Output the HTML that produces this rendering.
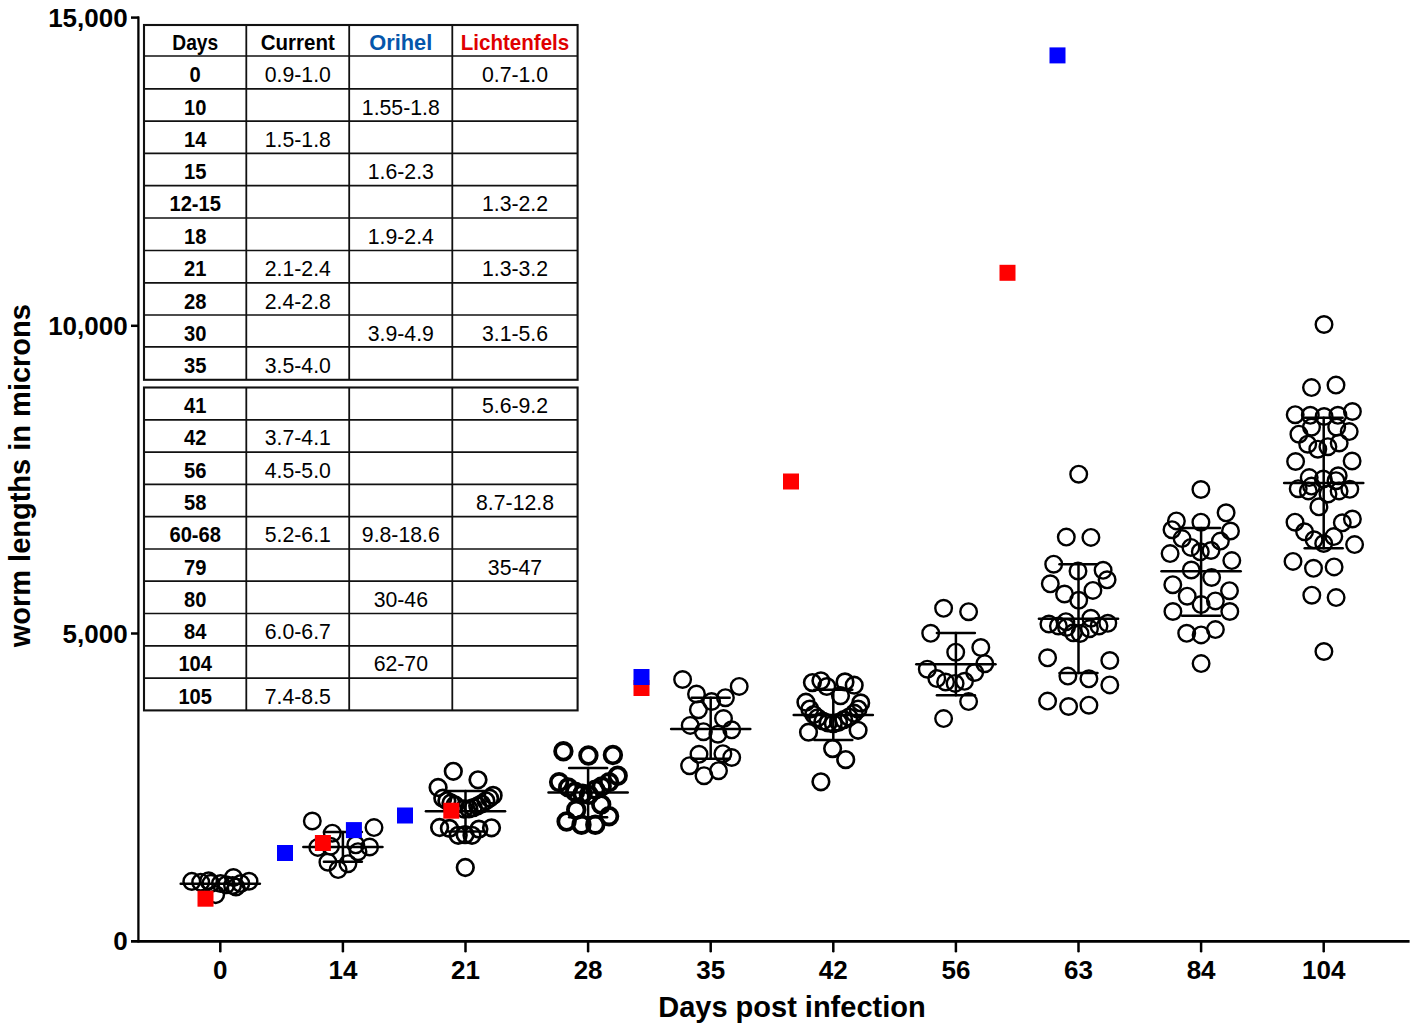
<!DOCTYPE html>
<html><head><meta charset="utf-8"><style>
html,body{margin:0;padding:0;background:#fff;}
svg{display:block;}
</style></head><body>
<svg width="1416" height="1034" viewBox="0 0 1416 1034" font-family="Liberation Sans, sans-serif">
<rect width="1416" height="1034" fill="#fff"/>
<g stroke="#000" fill="none" stroke-linecap="butt">
<line x1="138.4" y1="16.5" x2="138.4" y2="942.6" stroke-width="2.3"/>
<line x1="131" y1="941.4" x2="1409.6" y2="941.4" stroke-width="2.8"/>
<line x1="131" y1="17.6" x2="139" y2="17.6" stroke-width="2.5"/>
<line x1="131" y1="325.8" x2="139" y2="325.8" stroke-width="2.5"/>
<line x1="131" y1="633.5" x2="139" y2="633.5" stroke-width="2.5"/>
</g>
<g stroke="#000" fill="none" stroke-width="2.5" stroke-linecap="round">
<line x1="220.3" y1="942" x2="220.3" y2="951.3"/>
<line x1="342.9" y1="942" x2="342.9" y2="951.3"/>
<line x1="465.5" y1="942" x2="465.5" y2="951.3"/>
<line x1="588.1" y1="942" x2="588.1" y2="951.3"/>
<line x1="710.7" y1="942" x2="710.7" y2="951.3"/>
<line x1="833.3" y1="942" x2="833.3" y2="951.3"/>
<line x1="955.9" y1="942" x2="955.9" y2="951.3"/>
<line x1="1078.5" y1="942" x2="1078.5" y2="951.3"/>
<line x1="1201.1" y1="942" x2="1201.1" y2="951.3"/>
<line x1="1323.7" y1="942" x2="1323.7" y2="951.3"/>
</g>
<g font-family="Liberation Sans, sans-serif" font-weight="bold" font-size="26" fill="#000">
<text x="127.7" y="26.7" text-anchor="end">15,000</text>
<text x="127.7" y="334.9" text-anchor="end">10,000</text>
<text x="127.7" y="642.6" text-anchor="end">5,000</text>
<text x="127.7" y="949.8" text-anchor="end">0</text>
<text x="220.3" y="978.8" text-anchor="middle">0</text>
<text x="342.9" y="978.8" text-anchor="middle">14</text>
<text x="465.5" y="978.8" text-anchor="middle">21</text>
<text x="588.1" y="978.8" text-anchor="middle">28</text>
<text x="710.7" y="978.8" text-anchor="middle">35</text>
<text x="833.3" y="978.8" text-anchor="middle">42</text>
<text x="955.9" y="978.8" text-anchor="middle">56</text>
<text x="1078.5" y="978.8" text-anchor="middle">63</text>
<text x="1201.1" y="978.8" text-anchor="middle">84</text>
<text x="1323.7" y="978.8" text-anchor="middle">104</text>
</g>
<text x="658.2" y="1016.8" font-family="Liberation Sans, sans-serif" font-weight="bold" font-size="29">Days post infection</text>
<text transform="translate(29.8,647.3) rotate(-90)" font-family="Liberation Sans, sans-serif" font-weight="bold" font-size="29">worm lengths in microns</text>
<g stroke="#000" stroke-width="2.5" fill="none">
<circle cx="191.8" cy="881.4" r="8.3"/>
<circle cx="208.6" cy="880.8" r="8.3"/>
<circle cx="200.7" cy="882.2" r="8.3"/>
<circle cx="210.9" cy="883.4" r="8.3"/>
<circle cx="215.7" cy="894.6" r="8.3"/>
<circle cx="233.4" cy="877.5" r="8.3"/>
<circle cx="249" cy="881.2" r="8.3"/>
<circle cx="240.8" cy="883.5" r="8.3"/>
<circle cx="232.6" cy="885.5" r="8.3"/>
<circle cx="226.2" cy="884.8" r="8.3"/>
<circle cx="220.5" cy="883.5" r="8.3"/>
<circle cx="236" cy="887" r="8.3"/>
</g>
<g stroke="#000" stroke-width="2.4" fill="none">
<circle cx="312.3" cy="821" r="8.3"/>
<circle cx="332.3" cy="833.2" r="8.3"/>
<circle cx="374" cy="827.6" r="8.3"/>
<circle cx="317.8" cy="847.4" r="8.3"/>
<circle cx="330.5" cy="846.3" r="8.3"/>
<circle cx="327.9" cy="862.2" r="8.3"/>
<circle cx="338.1" cy="869.6" r="8.3"/>
<circle cx="347.9" cy="863.7" r="8.3"/>
<circle cx="355.8" cy="844.8" r="8.3"/>
<circle cx="358" cy="851.7" r="8.3"/>
<circle cx="369.6" cy="847" r="8.3"/>
</g>
<g stroke="#000" stroke-width="2.7" fill="none">
<circle cx="453.3" cy="771.3" r="8.3"/>
<circle cx="478" cy="779.8" r="8.3"/>
<circle cx="438.1" cy="787.5" r="8.3"/>
<circle cx="442.8" cy="798.2" r="8.3"/>
<circle cx="446.9" cy="800.8" r="8.3"/>
<circle cx="451" cy="803" r="8.3"/>
<circle cx="455" cy="805" r="8.3"/>
<circle cx="493.1" cy="795.4" r="8.3"/>
<circle cx="489.6" cy="798.2" r="8.3"/>
<circle cx="485.9" cy="800.8" r="8.3"/>
<circle cx="481.5" cy="803.9" r="8.3"/>
<circle cx="477.7" cy="805.8" r="8.3"/>
<circle cx="473.3" cy="807.7" r="8.3"/>
<circle cx="468.9" cy="808.9" r="8.3"/>
<circle cx="464" cy="809" r="8.3"/>
<circle cx="439.6" cy="827.5" r="8.3"/>
<circle cx="449.4" cy="828.4" r="8.3"/>
<circle cx="458.2" cy="835.3" r="8.3"/>
<circle cx="465.1" cy="834.7" r="8.3"/>
<circle cx="472" cy="835.3" r="8.3"/>
<circle cx="478.9" cy="829.1" r="8.3"/>
<circle cx="491.5" cy="827.8" r="8.3"/>
<circle cx="465.3" cy="867.5" r="8.3"/>
</g>
<g stroke="#000" stroke-width="3.8" fill="none">
<circle cx="563.4" cy="751.3" r="8.3"/>
<circle cx="588.4" cy="755.5" r="8.3"/>
<circle cx="612.9" cy="755" r="8.3"/>
<circle cx="617.7" cy="775.7" r="8.3"/>
<circle cx="559.1" cy="782.1" r="8.3"/>
<circle cx="568.2" cy="787.4" r="8.3"/>
<circle cx="575.1" cy="791.7" r="8.3"/>
<circle cx="582.6" cy="793.8" r="8.3"/>
<circle cx="588.9" cy="794.9" r="8.3"/>
<circle cx="595.3" cy="789.6" r="8.3"/>
<circle cx="601.7" cy="786.4" r="8.3"/>
<circle cx="609.1" cy="782.1" r="8.3"/>
<circle cx="576.2" cy="809.8" r="8.3"/>
<circle cx="601.2" cy="804.5" r="8.3"/>
<circle cx="566.6" cy="821.5" r="8.3"/>
<circle cx="581.5" cy="824.7" r="8.3"/>
<circle cx="595.3" cy="824.7" r="8.3"/>
<circle cx="609.1" cy="816.2" r="8.3"/>
</g>
<g stroke="#000" stroke-width="2.4" fill="none">
<circle cx="682.6" cy="679.5" r="8.3"/>
<circle cx="739.2" cy="686.4" r="8.3"/>
<circle cx="696.5" cy="694" r="8.3"/>
<circle cx="711.6" cy="701.5" r="8.3"/>
<circle cx="725.4" cy="697.7" r="8.3"/>
<circle cx="698.4" cy="709.7" r="8.3"/>
<circle cx="723.5" cy="718.5" r="8.3"/>
<circle cx="690.2" cy="725.4" r="8.3"/>
<circle cx="703.4" cy="731.7" r="8.3"/>
<circle cx="717.9" cy="734.2" r="8.3"/>
<circle cx="731.7" cy="729.8" r="8.3"/>
<circle cx="699" cy="754.3" r="8.3"/>
<circle cx="722.9" cy="753.7" r="8.3"/>
<circle cx="731.7" cy="757.5" r="8.3"/>
<circle cx="689.6" cy="765.7" r="8.3"/>
<circle cx="704" cy="775.7" r="8.3"/>
<circle cx="718.5" cy="770.7" r="8.3"/>
</g>
<g stroke="#000" stroke-width="2.6" fill="none">
<circle cx="812.4" cy="682.6" r="8.3"/>
<circle cx="820.9" cy="680.8" r="8.3"/>
<circle cx="826.8" cy="686.5" r="8.3"/>
<circle cx="845" cy="681.9" r="8.3"/>
<circle cx="854.2" cy="685.2" r="8.3"/>
<circle cx="840.5" cy="695.7" r="8.3"/>
<circle cx="805.9" cy="702.2" r="8.3"/>
<circle cx="860.7" cy="702.9" r="8.3"/>
<circle cx="809.8" cy="709.1" r="8.3"/>
<circle cx="813.7" cy="714.5" r="8.3"/>
<circle cx="817.6" cy="717.8" r="8.3"/>
<circle cx="822.9" cy="721" r="8.3"/>
<circle cx="828.1" cy="723" r="8.3"/>
<circle cx="833.3" cy="723.6" r="8.3"/>
<circle cx="838.5" cy="722.3" r="8.3"/>
<circle cx="843.7" cy="719.7" r="8.3"/>
<circle cx="849" cy="717.1" r="8.3"/>
<circle cx="854.2" cy="713.2" r="8.3"/>
<circle cx="858.1" cy="709.1" r="8.3"/>
<circle cx="808.5" cy="732.2" r="8.3"/>
<circle cx="858.1" cy="730.3" r="8.3"/>
<circle cx="832.6" cy="748.6" r="8.3"/>
<circle cx="845.7" cy="759.6" r="8.3"/>
<circle cx="820.9" cy="781.8" r="8.3"/>
</g>
<g stroke="#000" stroke-width="2.4" fill="none">
<circle cx="943.6" cy="608.3" r="8.3"/>
<circle cx="968.6" cy="611.7" r="8.3"/>
<circle cx="930.7" cy="633.3" r="8.3"/>
<circle cx="955.7" cy="652.2" r="8.3"/>
<circle cx="980.8" cy="647.5" r="8.3"/>
<circle cx="984.8" cy="663.7" r="8.3"/>
<circle cx="927.3" cy="669.2" r="8.3"/>
<circle cx="936.8" cy="678.6" r="8.3"/>
<circle cx="945.6" cy="682" r="8.3"/>
<circle cx="955.1" cy="683.4" r="8.3"/>
<circle cx="964.5" cy="681.3" r="8.3"/>
<circle cx="974.7" cy="672.5" r="8.3"/>
<circle cx="968.6" cy="701.6" r="8.3"/>
<circle cx="943.6" cy="718.6" r="8.3"/>
</g>
<g stroke="#000" stroke-width="2.4" fill="none">
<circle cx="1078.7" cy="474.2" r="8.3"/>
<circle cx="1066.3" cy="537.1" r="8.3"/>
<circle cx="1090.9" cy="537.4" r="8.3"/>
<circle cx="1053.7" cy="564.2" r="8.3"/>
<circle cx="1078" cy="571" r="8.3"/>
<circle cx="1103.1" cy="570.3" r="8.3"/>
<circle cx="1107.1" cy="579.8" r="8.3"/>
<circle cx="1050.3" cy="583.8" r="8.3"/>
<circle cx="1092.9" cy="590.4" r="8.3"/>
<circle cx="1064.5" cy="594" r="8.3"/>
<circle cx="1078.7" cy="600.3" r="8.3"/>
<circle cx="1048.9" cy="624" r="8.3"/>
<circle cx="1058.4" cy="626" r="8.3"/>
<circle cx="1065.9" cy="621.7" r="8.3"/>
<circle cx="1066.5" cy="627.4" r="8.3"/>
<circle cx="1073.3" cy="632.8" r="8.3"/>
<circle cx="1080.1" cy="633.5" r="8.3"/>
<circle cx="1090.9" cy="618.3" r="8.3"/>
<circle cx="1089.5" cy="628.7" r="8.3"/>
<circle cx="1099" cy="626" r="8.3"/>
<circle cx="1107.8" cy="623.3" r="8.3"/>
<circle cx="1047.6" cy="657.8" r="8.3"/>
<circle cx="1109.8" cy="660.5" r="8.3"/>
<circle cx="1067.9" cy="676.1" r="8.3"/>
<circle cx="1088.9" cy="678.8" r="8.3"/>
<circle cx="1109.8" cy="684.9" r="8.3"/>
<circle cx="1047.6" cy="701.1" r="8.3"/>
<circle cx="1068.6" cy="706.5" r="8.3"/>
<circle cx="1088.9" cy="705.2" r="8.3"/>
</g>
<g stroke="#000" stroke-width="2.4" fill="none">
<circle cx="1200.9" cy="489.5" r="8.3"/>
<circle cx="1226.1" cy="512.8" r="8.3"/>
<circle cx="1176.4" cy="520.9" r="8.3"/>
<circle cx="1200.9" cy="522.2" r="8.3"/>
<circle cx="1172" cy="529.7" r="8.3"/>
<circle cx="1230.5" cy="531" r="8.3"/>
<circle cx="1182.1" cy="538.6" r="8.3"/>
<circle cx="1220.4" cy="541.1" r="8.3"/>
<circle cx="1190.9" cy="547.4" r="8.3"/>
<circle cx="1200.3" cy="551.8" r="8.3"/>
<circle cx="1211" cy="550.5" r="8.3"/>
<circle cx="1170.1" cy="553.6" r="8.3"/>
<circle cx="1231.8" cy="560.6" r="8.3"/>
<circle cx="1191.3" cy="570" r="8.3"/>
<circle cx="1211.6" cy="577.5" r="8.3"/>
<circle cx="1172.8" cy="584.7" r="8.3"/>
<circle cx="1229.5" cy="590.7" r="8.3"/>
<circle cx="1187.2" cy="596.2" r="8.3"/>
<circle cx="1215.4" cy="600.9" r="8.3"/>
<circle cx="1201.1" cy="604.6" r="8.3"/>
<circle cx="1172.9" cy="611.5" r="8.3"/>
<circle cx="1229.8" cy="611.5" r="8.3"/>
<circle cx="1186.7" cy="633.3" r="8.3"/>
<circle cx="1201.1" cy="634.9" r="8.3"/>
<circle cx="1215.4" cy="629.6" r="8.3"/>
<circle cx="1201.1" cy="663.6" r="8.3"/>
</g>
<g stroke="#000" stroke-width="2.4" fill="none">
<circle cx="1324" cy="324.5" r="8.3"/>
<circle cx="1311.5" cy="387.6" r="8.3"/>
<circle cx="1336" cy="385.1" r="8.3"/>
<circle cx="1295.2" cy="414.7" r="8.3"/>
<circle cx="1310.3" cy="415.3" r="8.3"/>
<circle cx="1324.1" cy="416.5" r="8.3"/>
<circle cx="1337.9" cy="415.3" r="8.3"/>
<circle cx="1352.4" cy="411.5" r="8.3"/>
<circle cx="1311.5" cy="427.2" r="8.3"/>
<circle cx="1336.7" cy="427.2" r="8.3"/>
<circle cx="1298.9" cy="434.2" r="8.3"/>
<circle cx="1349.2" cy="431.6" r="8.3"/>
<circle cx="1307.7" cy="444.2" r="8.3"/>
<circle cx="1317.8" cy="449.2" r="8.3"/>
<circle cx="1327.9" cy="446.7" r="8.3"/>
<circle cx="1339.2" cy="443" r="8.3"/>
<circle cx="1295.6" cy="461.5" r="8.3"/>
<circle cx="1352.1" cy="461" r="8.3"/>
<circle cx="1309.2" cy="477.6" r="8.3"/>
<circle cx="1323.3" cy="479" r="8.3"/>
<circle cx="1338.2" cy="475.8" r="8.3"/>
<circle cx="1336" cy="480.7" r="8.3"/>
<circle cx="1311.5" cy="486.1" r="8.3"/>
<circle cx="1298.2" cy="488.7" r="8.3"/>
<circle cx="1308.3" cy="490.9" r="8.3"/>
<circle cx="1328" cy="494" r="8.3"/>
<circle cx="1339.1" cy="490.9" r="8.3"/>
<circle cx="1349.8" cy="489.3" r="8.3"/>
<circle cx="1318.9" cy="506.8" r="8.3"/>
<circle cx="1295" cy="522.2" r="8.3"/>
<circle cx="1342.3" cy="522.8" r="8.3"/>
<circle cx="1352.4" cy="519" r="8.3"/>
<circle cx="1304.6" cy="531.8" r="8.3"/>
<circle cx="1314.1" cy="539.8" r="8.3"/>
<circle cx="1323.7" cy="543.5" r="8.3"/>
<circle cx="1333.8" cy="536.6" r="8.3"/>
<circle cx="1354.6" cy="544.6" r="8.3"/>
<circle cx="1293" cy="561.4" r="8.3"/>
<circle cx="1313.5" cy="568.3" r="8.3"/>
<circle cx="1334.1" cy="566.9" r="8.3"/>
<circle cx="1311.8" cy="595.2" r="8.3"/>
<circle cx="1336.1" cy="597.6" r="8.3"/>
<circle cx="1323.9" cy="651.5" r="8.3"/>
</g>
<g stroke="#000" stroke-width="2.5" fill="none" stroke-linecap="round">
<line x1="180.7" y1="883.8" x2="259.9" y2="883.8"/>
<line x1="303.3" y1="847" x2="382.5" y2="847"/>
<line x1="342.9" y1="832.1" x2="342.9" y2="861.8"/>
<line x1="323.9" y1="832.1" x2="361.9" y2="832.1"/>
<line x1="323.9" y1="861.8" x2="361.9" y2="861.8"/>
<line x1="425.9" y1="811.2" x2="505.1" y2="811.2"/>
<line x1="465.5" y1="790.9" x2="465.5" y2="831.5"/>
<line x1="446.5" y1="790.9" x2="484.5" y2="790.9"/>
<line x1="446.5" y1="831.5" x2="484.5" y2="831.5"/>
<line x1="548.5" y1="792.6" x2="627.7" y2="792.6"/>
<line x1="588.1" y1="768" x2="588.1" y2="817.2"/>
<line x1="569.1" y1="768" x2="607.1" y2="768"/>
<line x1="569.1" y1="817.2" x2="607.1" y2="817.2"/>
<line x1="671.1" y1="728.9" x2="750.3" y2="728.9"/>
<line x1="710.7" y1="697.7" x2="710.7" y2="758.7"/>
<line x1="691.7" y1="697.7" x2="729.7" y2="697.7"/>
<line x1="691.7" y1="758.7" x2="729.7" y2="758.7"/>
<line x1="793.7" y1="715" x2="872.9" y2="715"/>
<line x1="833.3" y1="689.8" x2="833.3" y2="740"/>
<line x1="814.3" y1="689.8" x2="852.3" y2="689.8"/>
<line x1="814.3" y1="740" x2="852.3" y2="740"/>
<line x1="916.3" y1="664.2" x2="995.5" y2="664.2"/>
<line x1="955.9" y1="633" x2="955.9" y2="695.3"/>
<line x1="936.9" y1="633" x2="974.9" y2="633"/>
<line x1="936.9" y1="695.3" x2="974.9" y2="695.3"/>
<line x1="1038.9" y1="618.8" x2="1118.1" y2="618.8"/>
<line x1="1078.5" y1="564.2" x2="1078.5" y2="673.1"/>
<line x1="1059.5" y1="564.2" x2="1097.5" y2="564.2"/>
<line x1="1059.5" y1="673.1" x2="1097.5" y2="673.1"/>
<line x1="1161.5" y1="571.3" x2="1240.7" y2="571.3"/>
<line x1="1201.1" y1="527.9" x2="1201.1" y2="615.7"/>
<line x1="1182.1" y1="527.9" x2="1220.1" y2="527.9"/>
<line x1="1182.1" y1="615.7" x2="1220.1" y2="615.7"/>
<line x1="1284.1" y1="483" x2="1363.3" y2="483"/>
<line x1="1323.7" y1="417.8" x2="1323.7" y2="548.3"/>
<line x1="1304.7" y1="417.8" x2="1342.7" y2="417.8"/>
<line x1="1304.7" y1="548.3" x2="1342.7" y2="548.3"/>
</g>
<rect x="197.5" y="890.7" width="16" height="16" fill="#f00"/>
<rect x="314.9" y="835.0" width="16" height="16" fill="#f00"/>
<rect x="443.3" y="802.7" width="16" height="16" fill="#f00"/>
<rect x="633.5" y="680.0" width="16" height="16" fill="#f00"/>
<rect x="783.0" y="473.5" width="16" height="16" fill="#f00"/>
<rect x="999.5" y="264.8" width="16" height="16" fill="#f00"/>
<rect x="277.0" y="845.0" width="16" height="16" fill="#00f"/>
<rect x="345.9" y="822.1" width="16" height="16" fill="#00f"/>
<rect x="397.0" y="807.5" width="16" height="16" fill="#00f"/>
<rect x="633.5" y="669.0" width="16" height="16" fill="#00f"/>
<rect x="1049.5" y="47.4" width="16" height="16" fill="#00f"/>
<g font-family="Liberation Sans, sans-serif" font-size="22">
<g stroke="#111" fill="none">
<rect x="144" y="25" width="433.6" height="354.8" stroke-width="2.1"/>
<line x1="144" y1="56.0" x2="577.6" y2="56.0" stroke-width="1.7"/>
<line x1="144" y1="88.9" x2="577.6" y2="88.9" stroke-width="1.7"/>
<line x1="144" y1="121.2" x2="577.6" y2="121.2" stroke-width="1.7"/>
<line x1="144" y1="153.4" x2="577.6" y2="153.4" stroke-width="1.7"/>
<line x1="144" y1="185.6" x2="577.6" y2="185.6" stroke-width="1.7"/>
<line x1="144" y1="218.0" x2="577.6" y2="218.0" stroke-width="1.7"/>
<line x1="144" y1="250.5" x2="577.6" y2="250.5" stroke-width="1.7"/>
<line x1="144" y1="282.9" x2="577.6" y2="282.9" stroke-width="1.7"/>
<line x1="144" y1="315.0" x2="577.6" y2="315.0" stroke-width="1.7"/>
<line x1="144" y1="346.9" x2="577.6" y2="346.9" stroke-width="1.7"/>
<line x1="246.3" y1="25" x2="246.3" y2="379.8" stroke-width="1.8"/>
<line x1="349.2" y1="25" x2="349.2" y2="379.8" stroke-width="1.8"/>
<line x1="452.3" y1="25" x2="452.3" y2="379.8" stroke-width="1.8"/>
</g>
<text transform="translate(195.2,49.8) scale(0.872,1)" text-anchor="middle" font-weight="bold" fill="#000">Days</text>
<text transform="translate(297.8,49.8) scale(0.933,1)" text-anchor="middle" font-weight="bold" fill="#000">Current</text>
<text transform="translate(400.8,49.8) scale(0.992,1)" text-anchor="middle" font-weight="bold" fill="#0556ab">Orihel</text>
<text transform="translate(515.0,49.8) scale(0.935,1)" text-anchor="middle" font-weight="bold" fill="#e00000">Lichtenfels</text>
<text transform="translate(195.2,81.6) scale(0.915,1)" text-anchor="middle" font-weight="bold" fill="#000">0</text>
<text transform="translate(297.8,81.6) scale(0.965,1)" text-anchor="middle" font-weight="normal" fill="#000">0.9-1.0</text>
<text transform="translate(515.0,81.6) scale(0.965,1)" text-anchor="middle" font-weight="normal" fill="#000">0.7-1.0</text>
<text transform="translate(195.2,114.5) scale(0.915,1)" text-anchor="middle" font-weight="bold" fill="#000">10</text>
<text transform="translate(400.8,114.5) scale(0.965,1)" text-anchor="middle" font-weight="normal" fill="#000">1.55-1.8</text>
<text transform="translate(195.2,146.8) scale(0.915,1)" text-anchor="middle" font-weight="bold" fill="#000">14</text>
<text transform="translate(297.8,146.8) scale(0.965,1)" text-anchor="middle" font-weight="normal" fill="#000">1.5-1.8</text>
<text transform="translate(195.2,179.0) scale(0.915,1)" text-anchor="middle" font-weight="bold" fill="#000">15</text>
<text transform="translate(400.8,179.0) scale(0.965,1)" text-anchor="middle" font-weight="normal" fill="#000">1.6-2.3</text>
<text transform="translate(195.2,211.2) scale(0.915,1)" text-anchor="middle" font-weight="bold" fill="#000">12-15</text>
<text transform="translate(515.0,211.2) scale(0.965,1)" text-anchor="middle" font-weight="normal" fill="#000">1.3-2.2</text>
<text transform="translate(195.2,243.6) scale(0.915,1)" text-anchor="middle" font-weight="bold" fill="#000">18</text>
<text transform="translate(400.8,243.6) scale(0.965,1)" text-anchor="middle" font-weight="normal" fill="#000">1.9-2.4</text>
<text transform="translate(195.2,276.1) scale(0.915,1)" text-anchor="middle" font-weight="bold" fill="#000">21</text>
<text transform="translate(297.8,276.1) scale(0.965,1)" text-anchor="middle" font-weight="normal" fill="#000">2.1-2.4</text>
<text transform="translate(515.0,276.1) scale(0.965,1)" text-anchor="middle" font-weight="normal" fill="#000">1.3-3.2</text>
<text transform="translate(195.2,308.5) scale(0.915,1)" text-anchor="middle" font-weight="bold" fill="#000">28</text>
<text transform="translate(297.8,308.5) scale(0.965,1)" text-anchor="middle" font-weight="normal" fill="#000">2.4-2.8</text>
<text transform="translate(195.2,340.6) scale(0.915,1)" text-anchor="middle" font-weight="bold" fill="#000">30</text>
<text transform="translate(400.8,340.6) scale(0.965,1)" text-anchor="middle" font-weight="normal" fill="#000">3.9-4.9</text>
<text transform="translate(515.0,340.6) scale(0.965,1)" text-anchor="middle" font-weight="normal" fill="#000">3.1-5.6</text>
<text transform="translate(195.2,372.5) scale(0.915,1)" text-anchor="middle" font-weight="bold" fill="#000">35</text>
<text transform="translate(297.8,372.5) scale(0.965,1)" text-anchor="middle" font-weight="normal" fill="#000">3.5-4.0</text>
<g stroke="#111" fill="none">
<rect x="144" y="387.5" width="433.6" height="322.9" stroke-width="2.1"/>
<line x1="144" y1="419.8" x2="577.6" y2="419.8" stroke-width="1.7"/>
<line x1="144" y1="452.1" x2="577.6" y2="452.1" stroke-width="1.7"/>
<line x1="144" y1="484.4" x2="577.6" y2="484.4" stroke-width="1.7"/>
<line x1="144" y1="516.7" x2="577.6" y2="516.7" stroke-width="1.7"/>
<line x1="144" y1="549.0" x2="577.6" y2="549.0" stroke-width="1.7"/>
<line x1="144" y1="581.2" x2="577.6" y2="581.2" stroke-width="1.7"/>
<line x1="144" y1="613.5" x2="577.6" y2="613.5" stroke-width="1.7"/>
<line x1="144" y1="645.8" x2="577.6" y2="645.8" stroke-width="1.7"/>
<line x1="144" y1="678.1" x2="577.6" y2="678.1" stroke-width="1.7"/>
<line x1="246.3" y1="387.5" x2="246.3" y2="710.4" stroke-width="1.8"/>
<line x1="349.2" y1="387.5" x2="349.2" y2="710.4" stroke-width="1.8"/>
<line x1="452.3" y1="387.5" x2="452.3" y2="710.4" stroke-width="1.8"/>
</g>
<text transform="translate(195.2,413.1) scale(0.915,1)" text-anchor="middle" font-weight="bold" fill="#000">41</text>
<text transform="translate(515.0,413.1) scale(0.965,1)" text-anchor="middle" font-weight="normal" fill="#000">5.6-9.2</text>
<text transform="translate(195.2,445.4) scale(0.915,1)" text-anchor="middle" font-weight="bold" fill="#000">42</text>
<text transform="translate(297.8,445.4) scale(0.965,1)" text-anchor="middle" font-weight="normal" fill="#000">3.7-4.1</text>
<text transform="translate(195.2,477.7) scale(0.915,1)" text-anchor="middle" font-weight="bold" fill="#000">56</text>
<text transform="translate(297.8,477.7) scale(0.965,1)" text-anchor="middle" font-weight="normal" fill="#000">4.5-5.0</text>
<text transform="translate(195.2,510.0) scale(0.915,1)" text-anchor="middle" font-weight="bold" fill="#000">58</text>
<text transform="translate(515.0,510.0) scale(0.965,1)" text-anchor="middle" font-weight="normal" fill="#000">8.7-12.8</text>
<text transform="translate(195.2,542.3) scale(0.915,1)" text-anchor="middle" font-weight="bold" fill="#000">60-68</text>
<text transform="translate(297.8,542.3) scale(0.965,1)" text-anchor="middle" font-weight="normal" fill="#000">5.2-6.1</text>
<text transform="translate(400.8,542.3) scale(0.965,1)" text-anchor="middle" font-weight="normal" fill="#000">9.8-18.6</text>
<text transform="translate(195.2,574.6) scale(0.915,1)" text-anchor="middle" font-weight="bold" fill="#000">79</text>
<text transform="translate(515.0,574.6) scale(0.965,1)" text-anchor="middle" font-weight="normal" fill="#000">35-47</text>
<text transform="translate(195.2,606.8) scale(0.915,1)" text-anchor="middle" font-weight="bold" fill="#000">80</text>
<text transform="translate(400.8,606.8) scale(0.965,1)" text-anchor="middle" font-weight="normal" fill="#000">30-46</text>
<text transform="translate(195.2,639.1) scale(0.915,1)" text-anchor="middle" font-weight="bold" fill="#000">84</text>
<text transform="translate(297.8,639.1) scale(0.965,1)" text-anchor="middle" font-weight="normal" fill="#000">6.0-6.7</text>
<text transform="translate(195.2,671.4) scale(0.915,1)" text-anchor="middle" font-weight="bold" fill="#000">104</text>
<text transform="translate(400.8,671.4) scale(0.965,1)" text-anchor="middle" font-weight="normal" fill="#000">62-70</text>
<text transform="translate(195.2,703.7) scale(0.915,1)" text-anchor="middle" font-weight="bold" fill="#000">105</text>
<text transform="translate(297.8,703.7) scale(0.965,1)" text-anchor="middle" font-weight="normal" fill="#000">7.4-8.5</text>
</g>
</svg>
</body></html>
